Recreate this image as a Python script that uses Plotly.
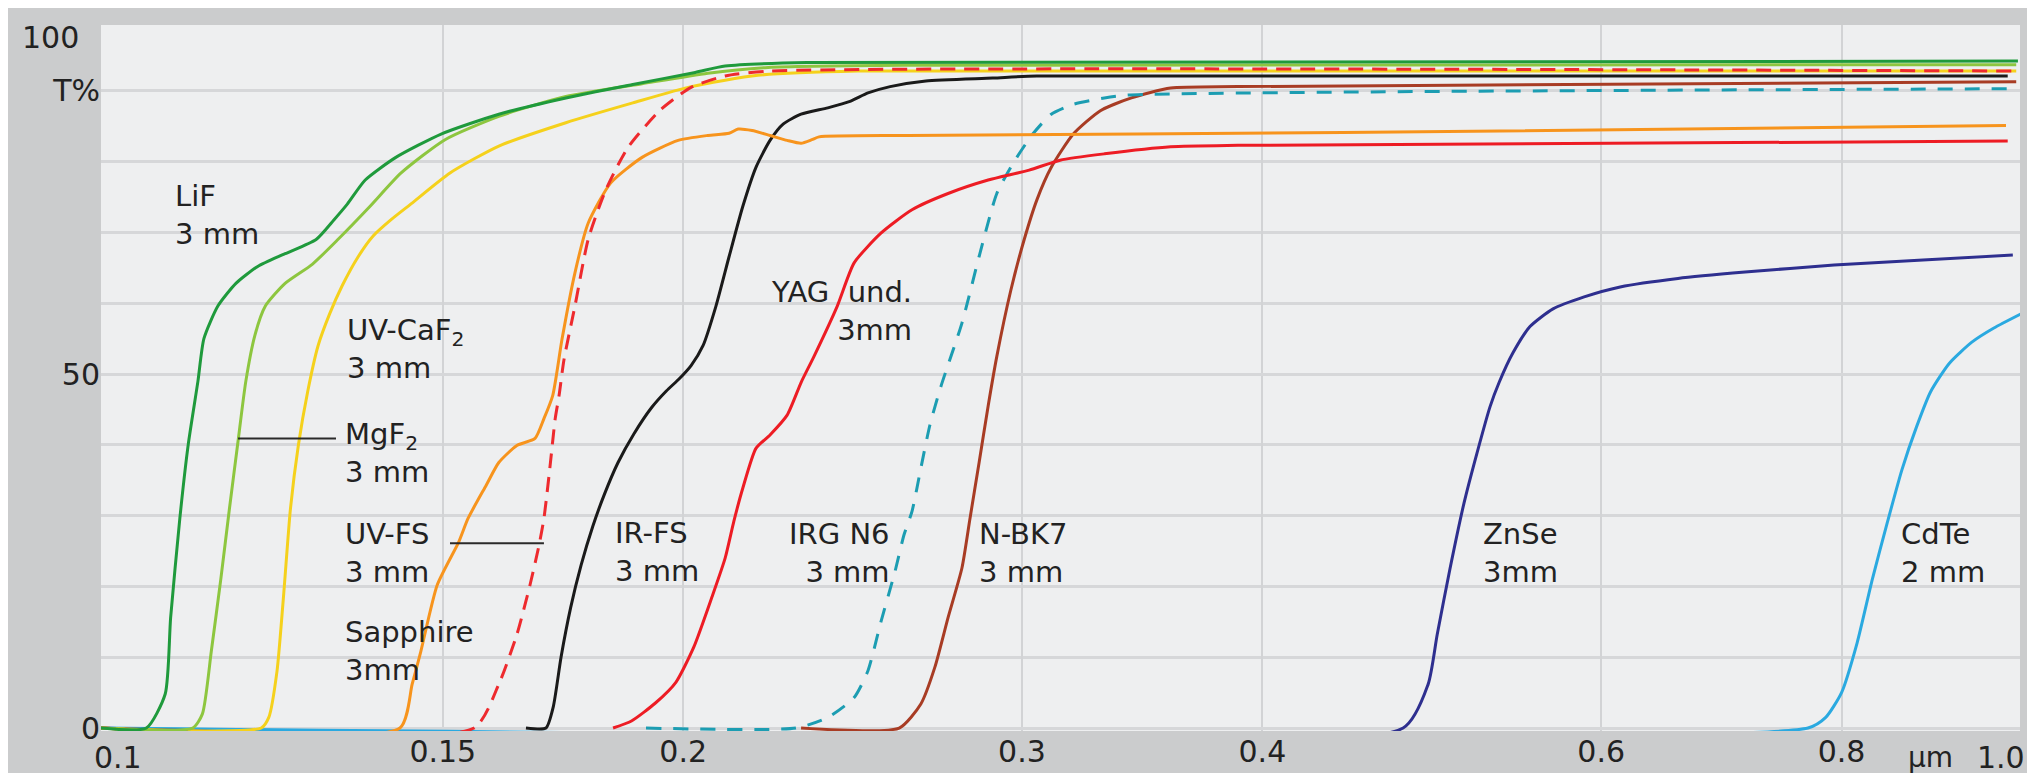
import math
import plotly.graph_objects as go

# ---------------- data (wavelength in µm, transmission in %) ----------------
lif_x = [0.0996, 0.1052, 0.1076, 0.1083, 0.1095, 0.1106, 0.1119, 0.1127, 0.1146, 0.1171, 0.1202, 0.1242,
         0.1289, 0.1317, 0.1338, 0.1367, 0.1418, 0.1497, 0.1604, 0.1738, 0.1883, 0.2029, 0.2103, 0.232, 0.988]
lif_y = [0, 0, 4.8, 15.6, 29.6, 40, 49, 55, 59.6, 62.8, 65.2, 67,
         69, 71.8, 74, 77.4, 80.6, 83.9, 86.7, 89, 90.9, 92.6, 93.5, 94, 94.2]

mgf2_x = [0.0996, 0.1112, 0.1125, 0.1137, 0.1150, 0.1162, 0.1174, 0.1185, 0.1198, 0.1213, 0.1242, 0.1283,
          0.1323, 0.1375, 0.1427, 0.1504, 0.1604, 0.1738, 0.1904, 0.2060, 0.2214, 0.2618, 0.986]
mgf2_y = [0, 0, 2, 10.8, 21, 31, 40.5, 49, 55.5, 59.6, 62.8, 65.5,
          69, 73.7, 78.4, 83.1, 86.4, 89.2, 91, 92.5, 93.3, 93.6, 93.7]

caf2_x = [0.0996, 0.1207, 0.1218, 0.1230, 0.1240, 0.1250, 0.1262, 0.1276, 0.1292, 0.1310, 0.1330, 0.1355,
          0.1380, 0.1410, 0.1442, 0.1513, 0.1604, 0.1738, 0.1883, 0.2019, 0.2187, 0.2465, 0.986]
caf2_y = [0, 0, 1.5, 8, 19, 31, 40, 47.5, 54, 58.5, 62.5, 66.5,
          69.5, 71.8, 73.9, 78.4, 82.2, 85.5, 88.3, 90.6, 92.2, 92.8, 92.8]

sapphire_x = [0.0996, 0.1425, 0.1446, 0.1461, 0.1490, 0.1529, 0.1546, 0.1580, 0.1604, 0.1639, 0.1675, 0.1693,
              0.1711, 0.1730, 0.1757, 0.1785, 0.1834, 0.1904, 0.1988, 0.2060, 0.2113, 0.2136, 0.2172, 0.2219,
              0.2265, 0.2303, 0.2333, 0.2353, 0.2618, 0.4406, 0.974]
sapphire_y = [0, 0, 6.2, 10.8, 20.2, 26.3, 29.6, 34.3, 37.5, 39.9, 40.9, 43.7,
              47, 54.9, 64.3, 71.3, 77, 80.6, 83, 83.7, 84, 84.6, 84.4, 83.7,
              83, 82.6, 83.1, 83.5, 83.7, 84.1, 85.1]

uvfs_x = [0.0996, 0.1557, 0.1604, 0.1639, 0.1665, 0.1683, 0.1693, 0.1705, 0.1716, 0.1724, 0.1734, 0.1757,
          0.1785, 0.1823, 0.1872, 0.1946, 0.2019, 0.2103, 0.2219, 0.988]
uvfs_y = [0, 0, 6.2, 13.2, 20.2, 25.8, 29.6, 36.7, 43.7, 47, 52, 59.6,
          69, 76, 82, 87.3, 90.5, 92.1, 92.8, 92.8]

irfs_x = [0.1657, 0.1697, 0.1712, 0.1728, 0.1748, 0.1770, 0.1795, 0.1820, 0.1850, 0.1885, 0.1925, 0.1960,
          0.1990, 0.2019, 0.2048, 0.2080, 0.2113, 0.2148, 0.2182, 0.2219, 0.2254, 0.2303, 0.2378, 0.2442,
          0.2495, 0.2562, 0.2674, 0.2897, 0.3054, 0.976]
irfs_y = [0, 0, 3, 10, 17, 23, 28.5, 33, 37.5, 41.5, 45.2, 47.6,
          49.3, 51.2, 54, 59.6, 66.6, 73.7, 79.2, 83, 85.3, 86.7, 87.6, 88.5,
          89.7, 90.6, 91.4, 91.8, 92.1, 92.1]

yag_x = [0.1839, 0.1880, 0.1934, 0.1983, 0.2026, 0.2070, 0.2103, 0.2125, 0.2148, 0.2182, 0.2219, 0.2265,
         0.2303, 0.2339, 0.2405, 0.2454, 0.2534, 0.2630, 0.2746, 0.2881, 0.3026, 0.3140, 0.3311, 0.3584,
         0.3885, 0.976]
yag_y = [0, 1, 3.5, 6.5, 11.5, 18.5, 24, 29.2, 33.9, 39.5, 41.4, 44.2,
         48.8, 52.5, 59.6, 65.7, 69.9, 73.2, 75.5, 77.4, 78.8, 80.2, 81.1, 82.1,
         82.3, 82.9]

irgn6_x = [0.1913, 0.2289, 0.2378, 0.2454, 0.2495, 0.2534, 0.2577, 0.2605, 0.2630, 0.2658, 0.2687, 0.2723,
           0.2792, 0.2850, 0.2911, 0.2975, 0.3039, 0.3107, 0.3190, 0.3311, 0.3401, 0.988]
irgn6_y = [0, 0, 1.5, 4.3, 8.1, 15, 22.1, 27.3, 30.6, 36.7, 42.8, 48.3,
           57.2, 66.6, 75.5, 80.2, 83.9, 86.7, 88.1, 89, 89.4, 90.3]

nbk7_x = [0.2303, 0.2590, 0.2658, 0.2703, 0.2746, 0.2792, 0.2819, 0.2850, 0.2881, 0.2911, 0.2960, 0.3008,
          0.3054, 0.3107, 0.3190, 0.3295, 0.3420, 0.3584, 0.3885, 0.986]
nbk7_y = [0, 0, 3.4, 8.6, 15.6, 22.6, 29.6, 37.5, 45.5, 52.5, 61.8, 69,
          74.6, 79.2, 83.9, 87.2, 89, 90.4, 90.6, 91.3]

znse_x = [0.0996, 0.4734, 0.4878, 0.4931, 0.5007, 0.5092, 0.5171, 0.5253, 0.5310, 0.5399, 0.5510, 0.5664,
          0.5879, 0.6138, 0.6578, 0.7127, 0.7929, 0.8819, 0.982]
znse_y = [0, 0, 6.2, 13.2, 22.5, 31.8, 38.8, 45.4, 48.8, 53, 56.7, 59.2,
          60.9, 62.3, 63.5, 64.4, 65.4, 66.1, 66.8]

cdte_x = [0.0996, 0.7685, 0.7850, 0.8000, 0.8150, 0.8300, 0.8450, 0.8600, 0.8750, 0.8900, 0.9100, 0.9350,
          0.9600, 0.9917]
cdte_y = [0, 0, 1.5, 5, 12, 21, 29, 36.5, 42.5, 47.5, 51.5, 54.5,
          56.5, 58.5]

x_tick_vals = [0.15, 0.2, 0.3, 0.4, 0.6, 0.8]
x_tick_text = ["0.15", "0.2", "0.3", "0.4", "0.6", "0.8"]
y_tick_vals = [0, 50, 90]
y_tick_text = ["0", "50", "T%"]

# ---------------- figure ----------------
FONT = "DejaVu Sans"
TXT = "#222222"

series = [
    ("CdTe", cdte_x, cdte_y, "#2aa9e0", "solid"),
    ("ZnSe", znse_x, znse_y, "#2e2f8f", "solid"),
    ("N-BK7", nbk7_x, nbk7_y, "#a83c24", "solid"),
    ("IRG N6", irgn6_x, irgn6_y, "#1c9db2", "15px,12px"),
    ("YAG", yag_x, yag_y, "#ed1c24", "solid"),
    ("IR-FS", irfs_x, irfs_y, "#1a1a1a", "solid"),
    ("Sapphire", sapphire_x, sapphire_y, "#f7941d", "solid"),
    ("UV-CaF2", caf2_x, caf2_y, "#f5d11c", "solid"),
    ("UV-FS", uvfs_x, uvfs_y, "#ee2a2e", "15px,9px"),
    ("MgF2", mgf2_x, mgf2_y, "#8dc63f", "solid"),
    ("LiF", lif_x, lif_y, "#1f9a3c", "solid"),
]

fig = go.Figure()
for name, xs, ys, col, dash in series:
    fig.add_trace(go.Scatter(x=xs, y=ys, mode="lines", name=name,
                             line=dict(color=col, width=3, dash=dash, shape="spline", smoothing=0.6),
                             hoverinfo="skip"))

# curve labels: (text, wavelength, T%, anchor)
labels = [
    ("LiF<br>3 mm", 0.1086, 72.5, "left"),
    ("UV-CaF<sub>2</sub><br>3 mm", 0.1334, 53.6, "left"),
    ("MgF<sub>2</sub><br>3 mm", 0.1331, 38.8, "left"),
    ("UV-FS<br>3 mm", 0.1331, 24.7, "left"),
    ("Sapphire<br>3mm", 0.1331, 10.9, "left"),
    ("IR-FS<br>3 mm", 0.1839, 24.8, "left"),
    ("YAG  und.<br>3mm", 0.2636, 58.9, "right"),
    ("IRG N6<br>3 mm", 0.2568, 24.7, "right"),
    ("N-BK7<br>3 mm", 0.2843, 24.7, "left"),
    ("ZnSe<br>3mm", 0.5195, 24.7, "left"),
    ("CdTe<br>2 mm", 0.8569, 24.7, "left"),
]
for t, x, y, anc in labels:
    fig.add_annotation(text=t, x=math.log10(x), y=y, xref="x", yref="y", xanchor=anc, yanchor="middle",
                       align=anc, showarrow=False, font=dict(family=FONT, size=29, color=TXT))

# leader lines (MgF2 and UV-FS)
leaders = [((0.1174, 40.9), (0.1320, 40.9)), ((0.1513, 26.1), (0.1693, 26.1))]
for (x0, y0), (x1, y1) in leaders:
    fig.add_shape(type="line", x0=x0, y0=y0, x1=x1, y1=y1, xref="x", yref="y",
                  line=dict(color="#2a2a2a", width=2))

# extra axis texts
fig.add_annotation(text="100", x=0, y=97.6, xref="paper", yref="y", xanchor="right", yanchor="middle",
                   xshift=-20, showarrow=False, font=dict(family=FONT, size=30, color=TXT))
fig.add_annotation(text="0.1", x=0, y=0, xref="paper", yref="paper", xanchor="center",
                   yanchor="middle", xshift=17, yshift=-26, showarrow=False,
                   font=dict(family=FONT, size=30, color=TXT))
fig.add_annotation(text="µm", x=1, y=0, xref="paper", yref="paper", xanchor="center",
                   yanchor="middle", xshift=-90, yshift=-26, showarrow=False,
                   font=dict(family=FONT, size=28, color=TXT))
fig.add_annotation(text="1.0", x=1, y=0, xref="paper", yref="paper", xanchor="center",
                   yanchor="middle", xshift=-19, yshift=-26, showarrow=False,
                   font=dict(family=FONT, size=30, color=TXT))

grid_h = dict(showgrid=True, gridcolor="#d6d7d9", gridwidth=3)
fig.update_layout(
    width=2035, height=773,
    margin=dict(l=93, r=23, t=17, b=46),
    paper_bgcolor="#cbcccd",
    plot_bgcolor="#eeeff0",
    showlegend=False,
    font=dict(family=FONT, size=30, color=TXT),
    xaxis=dict(type="log", range=[-1.00156, -0.00416], tickvals=x_tick_vals, ticktext=x_tick_text,
               showgrid=True, gridcolor="#d2d3d5", gridwidth=1.5, zeroline=False, showline=False,
               ticks="", tickfont=dict(family=FONT, size=30, color=TXT), fixedrange=True),
    yaxis=dict(range=[-0.42, 99.3], tickvals=y_tick_vals, ticktext=y_tick_text,
               zeroline=False, showline=False, ticks="",
               tickfont=dict(family=FONT, size=30, color=TXT), fixedrange=True,
               minor=dict(tick0=0, dtick=10, ticks="", **grid_h), **grid_h),
)

fig.write_html("out.html")
